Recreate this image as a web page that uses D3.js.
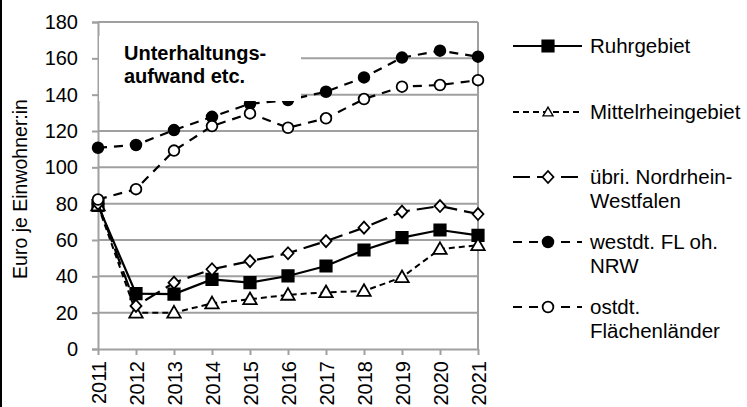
<!DOCTYPE html>
<html><head><meta charset="utf-8">
<script src="https://cdn.jsdelivr.net/npm/d3@7"></script>
<style>
html,body{margin:0;padding:0;background:#fff;}
svg{display:block;}
text{font-family:"Liberation Sans",Arial,sans-serif;fill:#000;}
</style></head>
<body>
<svg id="chart" width="747" height="407"></svg>
<script>
const years = ["2011","2012","2013","2014","2015","2016","2017","2018","2019","2020","2021"];
const yTicks = [0,20,40,60,80,100,120,140,160,180];
const ruhrgebiet      = [79, 30.5, 30.2, 38.3, 36.5, 40.2, 45.7, 54.5, 61.3, 65.5, 62.5];
const mittelrhein     = [79, 20, 20, 25.1, 27.4, 29.8, 31.2, 31.9, 39.5, 55, 57.1];
const uebriNRW        = [80, 23.7, 36.5, 43.9, 48.4, 52.7, 59.4, 66.8, 75.6, 78.7, 74.3];
const westdtFL        = [110.8, 112.3, 120.5, 127.8, 135, 137, 141.6, 149.5, 160.4, 164.2, 160.9];
const ostdtFL         = [82.3, 88, 109.2, 122.7, 129.7, 121.8, 127, 137.6, 144.4, 145.3, 148];
const seriesNames = [["Ruhrgebiet"],["Mittelrheingebiet"],["übri. Nordrhein-","Westfalen"],["westdt. FL oh.","NRW"],["ostdt.","Flächenländer"]];
const titleLines = ["Unterhaltungs-","aufwand etc."];
const yTitle = "Euro je Einwohner:in";

const series = [
  {name: seriesNames[0], values: ruhrgebiet, marker:"square", fill:"#000", dash:null, width:2.2},
  {name: seriesNames[1], values: mittelrhein, marker:"triangle", fill:"#fff", dash:"6,4", width:2},
  {name: seriesNames[2], values: uebriNRW, marker:"diamond", fill:"#fff", dash:"17,7", width:2.2},
  {name: seriesNames[3], values: westdtFL, marker:"circle", fill:"#000", dash:"9,7", width:2.2},
  {name: seriesNames[4], values: ostdtFL, marker:"circle", fill:"#fff", dash:"9,7", width:2.2}
];

const svg = d3.select("#chart");
const pLeft = 98, pRight = 478, pTop = 22, pBottom = 349;
const x = d3.scalePoint().domain(years).range([pLeft, pRight]);
const y = d3.scaleLinear().domain([0,180]).range([pBottom, pTop]);
const gridColor = "#a0a0a0";

// left black border
svg.append("line").attr("x1",1).attr("x2",1).attr("y1",0).attr("y2",407)
  .attr("stroke","#000").attr("stroke-width",2);

// gridlines
svg.append("g").selectAll("line").data(yTicks.filter(d=>d>0)).join("line")
  .attr("x1",pLeft).attr("x2",pRight).attr("y1",d=>y(d)).attr("y2",d=>y(d))
  .attr("stroke",gridColor).attr("stroke-width",2);
// right border
svg.append("line").attr("x1",pRight).attr("x2",pRight).attr("y1",pTop).attr("y2",pBottom)
  .attr("stroke",gridColor).attr("stroke-width",2);

// y axis
const yAxis = svg.append("g").attr("transform",`translate(${pLeft},0)`)
  .call(d3.axisLeft(y).tickValues(yTicks).tickSize(6).tickPadding(14));
yAxis.select(".domain").attr("stroke",gridColor).attr("stroke-width",2);
yAxis.selectAll(".tick line").attr("stroke",gridColor).attr("stroke-width",2);
yAxis.selectAll(".tick text").attr("font-size",20).attr("font-family","Liberation Sans, Arial, sans-serif").attr("fill","#000");

// x axis
const xAxis = svg.append("g").attr("transform",`translate(0,${pBottom})`)
  .call(d3.axisBottom(x).tickSize(6).tickSizeOuter(0));
xAxis.select(".domain").attr("stroke",gridColor).attr("stroke-width",2);
xAxis.selectAll(".tick line").attr("stroke",gridColor).attr("stroke-width",2);
xAxis.selectAll(".tick text").attr("font-size",20).attr("font-family","Liberation Sans, Arial, sans-serif").attr("fill","#000")
  .attr("text-anchor","end").attr("transform","translate(0,12) rotate(-90)").attr("x",0).attr("y",0).attr("dy","0.36em");

// y title
svg.append("text").attr("transform","translate(27,189) rotate(-90)")
  .attr("text-anchor","middle").attr("font-size",19.5).text(yTitle);

function markerPath(type){
  switch(type){
    case "square": return d3.symbol(d3.symbolSquare, 130)();
    case "triangle": return d3.symbol(d3.symbolTriangle, 78)();
    case "diamond": return "M0,-6L5.5,0L0,6L-5.5,0Z";
    case "circle": return d3.symbol(d3.symbolCircle, 90)();
  }
}

const line = d3.line().x((d,i)=>x(years[i])).y(d=>y(d));
series.forEach(s=>{
  const g = svg.append("g");
  g.append("path").attr("d",line(s.values)).attr("fill","none").attr("stroke","#000")
    .attr("stroke-width",s.width).attr("stroke-dasharray",s.dash);
  g.selectAll("path.m").data(s.values).join("path").attr("class","m")
    .attr("d",markerPath(s.marker))
    .attr("transform",(d,i)=>`translate(${x(years[i])},${y(d)+(s.marker==="triangle"?1:0)})`)
    .attr("fill",s.fill).attr("stroke","#000").attr("stroke-width",1.8);
});

// title box
svg.append("rect").attr("x",pLeft+1).attr("y",36).attr("width",202).attr("height",65).attr("fill","#fff");
svg.append("g").selectAll("text").data(titleLines).join("text")
  .attr("x",124).attr("y",(d,i)=>60+i*23).attr("font-size",20).attr("font-weight","bold").text(d=>d);

// legend
const legY = [46,112,177,242,307];
const lg = svg.append("g");
series.forEach((s,i)=>{
  const yy = legY[i];
  lg.append("line").attr("x1",513).attr("x2",582).attr("y1",yy).attr("y2",yy)
    .attr("stroke","#000").attr("stroke-width",s.width).attr("stroke-dasharray",s.dash);
  lg.append("path").attr("d",markerPath(s.marker))
    .attr("transform",`translate(548,${yy+(s.marker==="triangle"?1:0)}) scale(${s.marker==="triangle"?0.75:1})`)
    .attr("fill",s.fill).attr("stroke","#000").attr("stroke-width",1.8);
  s.name.forEach((t,j)=>{
    lg.append("text").attr("x",590).attr("y",yy+7+j*24).attr("font-size",20.5).text(t);
  });
});
</script>
</body></html>
